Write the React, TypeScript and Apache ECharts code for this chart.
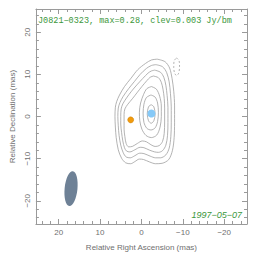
import React, { useEffect, useRef } from "react";
import * as echarts from "echarts";

// Tick values (mas)
const majorTicks = [-20, -10, 0, 10, 20];
const minorTicks = [-24, -22, -18, -16, -14, -12, -8, -6, -4, -2, 2, 4, 6, 8, 12, 14, 16, 18, 22, 24];

// Contours [RA offset, Dec offset] in mas, outermost (L1) to innermost (L7)
const contourL1: number[][] = [
  [-3.8, 13.6], [-5.7, 13.0], [-6.8, 11.5], [-7.4, 9], [-7.8, 6], [-8.0, 2.5], [-8.0, -1.5], [-7.9, -5],
  [-7.5, -8], [-6.6, -10.2], [-5, -11.1], [-3.4, -11.2], [-2, -10.8], [-0.5, -10.2], [0.5, -10.1],
  [1.6, -10.7], [2.6, -11.2], [3.8, -11.0], [4.8, -9.9], [5.6, -7.9], [6.1, -5], [6.3, -2.5], [6.4, 0],
  [6.3, 2.2], [6.0, 3.5], [5.3, 5.1], [4.1, 7.1], [2.5, 9.1], [0.9, 11.1], [-1.0, 12.6], [-2.4, 13.4], [-3.8, 13.6],
];
const contourL2: number[][] = [
  [-3.5, 12.3], [-5.1, 11.8], [-6.1, 10.4], [-6.7, 8.2], [-7.0, 5.5], [-7.2, 2.3], [-7.2, -1.5], [-7.1, -4.8],
  [-6.7, -7.5], [-5.9, -9.1], [-4.6, -9.8], [-3.4, -9.8], [-2.1, -9.4], [-0.6, -8.8], [0.4, -8.7],
  [1.6, -9.3], [2.7, -9.8], [3.7, -9.6], [4.4, -8.6], [5.0, -6.8], [5.4, -4.5], [5.6, -2.2], [5.7, 0],
  [5.6, 2.0], [5.2, 3.3], [4.4, 4.8], [3.1, 6.6], [1.7, 8.3], [0.3, 10.0], [-1.2, 11.4], [-2.4, 12.1], [-3.5, 12.3],
];
const contourL3: number[][] = [
  [-3.2, 11.0], [-4.6, 10.5], [-5.4, 9.3], [-5.9, 7.4], [-6.2, 5], [-6.4, 2.2], [-6.4, -1.4], [-6.3, -4.5],
  [-5.9, -6.8], [-5.1, -8.1], [-4.1, -8.5], [-3.2, -8.4], [-2.0, -8.0], [-0.6, -7.4], [0.3, -7.3],
  [1.6, -7.9], [2.8, -8.4], [3.6, -8.2], [4.1, -7.4], [4.5, -5.8], [4.8, -3.8], [5.0, -1.8], [5.0, 0],
  [4.9, 1.8], [4.5, 3.0], [3.6, 4.4], [2.4, 6.0], [1.1, 7.5], [-0.3, 9.0], [-1.6, 10.3], [-2.4, 10.8], [-3.2, 11.0],
];
const contourL4: number[][] = [
  [-2.9, 9.6], [-4.1, 9.2], [-4.8, 8.1], [-5.2, 6.5], [-5.5, 4.3], [-5.6, 2], [-5.6, -1.3], [-5.5, -4.0],
  [-5.1, -5.9], [-4.3, -6.9], [-3.3, -7.1], [-2.3, -6.7], [-1.2, -6.0], [-0.2, -5.8], [1.0, -6.4],
  [2.2, -7.1], [3.1, -7.2], [3.7, -6.4], [4.0, -4.8], [4.2, -3.0], [4.2, -1.2], [4.2, 0.5], [4.0, 1.8],
  [3.3, 2.9], [2.2, 4.2], [1.1, 5.6], [-0.1, 7.1], [-1.3, 8.5], [-2.1, 9.3], [-2.9, 9.6],
];
const contourL5: number[][] = [
  [-2.4, 7.1], [-3.6, 6.5], [-4.4, 4.8], [-4.8, 2.5], [-4.8, 0], [-4.5, -2.5], [-3.7, -4.4], [-2.4, -5.0],
  [-1.1, -4.5], [-0.1, -3.0], [0.4, -1], [0.5, 1], [0.2, 3.2], [-0.5, 5.2], [-1.3, 6.6], [-2.4, 7.1],
];
const contourL6: number[][] = [
  [-2.3, 5.1], [-3.3, 4.6], [-3.9, 3.2], [-4.1, 1.0], [-3.9, -1.2], [-3.3, -2.7], [-2.3, -3.2],
  [-1.3, -2.8], [-0.6, -1.4], [-0.4, 0.8], [-0.6, 2.9], [-1.2, 4.5], [-2.3, 5.1],
];
const contourL7: number[][] = [
  [-2.35, 2.8], [-3.0, 2.3], [-3.3, 0.6], [-3.0, -1.0], [-2.35, -1.6], [-1.7, -1.0], [-1.4, 0.6], [-1.7, 2.3], [-2.35, 2.8],
];
const negContour: number[][] = [
  [-8.5, 13.9], [-9.1, 13.2], [-9.2, 11.8], [-9.0, 10.3], [-8.5, 9.7], [-8.0, 10.3], [-7.8, 11.8], [-7.9, 13.2], [-8.5, 13.9],
];

// Model components
const compOrange = [[2.6, -0.8]];
const compBlue = [[-2.4, 0.7]];

// Restoring beam: [RA, Dec, minor axis, major axis] (mas)
const beam = [[17.0, -17.1, 3.1, 8.3]];

const GREEN = "#3b973b";
const AX = "#9a9a9a";
const LBL = "#6f6f6f";

const fmt = (v: number) => (v < 0 ? "\u2212" + Math.abs(v) : String(v));

function makeAxis(pos: string, ticks: number[], len: number, main: boolean, isX: boolean) {
  const a: any = {
    type: "value",
    min: -25.5,
    max: 25.5,
    position: pos,
    inverse: isX,
    splitLine: { show: false },
    axisLine: { show: main, onZero: false, lineStyle: { color: AX, width: 1 } },
    axisTick: { show: true, inside: true, length: len, customValues: ticks, lineStyle: { color: AX, width: 1 } },
    axisLabel: { show: false },
  };
  return a;
}

export default function App() {
  const ref = useRef<HTMLDivElement>(null);
  useEffect(() => {
    if (!ref.current) return;
    const chart = echarts.init(ref.current, undefined, { renderer: "svg" });

    const xBottom = makeAxis("bottom", majorTicks, 5, true, true);
    xBottom.axisLabel = {
      show: true, customValues: majorTicks, formatter: fmt, color: LBL, fontSize: 8,
      fontFamily: "Liberation Sans", margin: 4,
    };
    xBottom.name = "Relative Right Ascension (mas)";
    xBottom.nameLocation = "middle";
    xBottom.nameGap = 19;
    xBottom.nameTextStyle = { color: LBL, fontSize: 8, fontFamily: "Liberation Sans" };

    const yLeft = makeAxis("left", majorTicks, 5, true, false);
    yLeft.axisLabel = {
      show: true, customValues: majorTicks, formatter: fmt, color: LBL, fontSize: 8, rotate: 90,
      fontFamily: "Liberation Sans", margin: 4,
    };
    yLeft.name = "Relative Declination (mas)";
    yLeft.nameLocation = "middle";
    yLeft.nameGap = 15;
    yLeft.nameTextStyle = { color: LBL, fontSize: 8, fontFamily: "Liberation Sans" };

    const contourStyle = { color: "#9a9a9a", width: 0.75 };
    const contours = [contourL1, contourL2, contourL3, contourL4, contourL5, contourL6, contourL7];

    const series: any[] = contours.map((c) => ({
      type: "line",
      data: c,
      symbol: "none",
      smooth: 0.3,
      lineStyle: contourStyle,
      silent: true,
      z: 2,
    }));
    series.push({
      type: "line",
      data: negContour,
      symbol: "none",
      smooth: 0.3,
      lineStyle: { color: "#9a9a9a", width: 0.75, type: [2, 2] },
      silent: true,
      z: 2,
    });
    series.push({
      type: "custom",
      data: beam,
      silent: true,
      z: 3,
      renderItem: (params: any, api: any) => {
        const c = api.coord([api.value(0), api.value(1)]);
        const s = api.size([api.value(2), api.value(3)]);
        return {
          type: "ellipse",
          shape: { cx: c[0], cy: c[1], rx: Math.abs(s[0]) / 2, ry: Math.abs(s[1]) / 2 },
          rotation: -0.1,
          originX: c[0],
          originY: c[1],
          style: { fill: "#6e8196" },
        };
      },
    });
    series.push({
      type: "scatter",
      data: compOrange,
      symbolSize: 6,
      itemStyle: { color: "#f29b0c", borderColor: "#c77a00", borderWidth: 0.5, opacity: 1 },
      z: 5,
    });
    series.push({
      type: "scatter",
      data: compBlue,
      symbolSize: 8,
      itemStyle: { color: "#86c9f7", opacity: 1 },
      z: 5,
    });

    chart.setOption({
      animation: false,
      backgroundColor: "#ffffff",
      grid: { left: 31, right: 17, top: 9, bottom: 38 },
      xAxis: [
        xBottom,
        makeAxis("bottom", minorTicks, 3, false, true),
        makeAxis("top", majorTicks, 5, true, true),
        makeAxis("top", minorTicks, 3, false, true),
      ],
      yAxis: [
        yLeft,
        makeAxis("left", minorTicks, 3, false, false),
        makeAxis("right", majorTicks, 5, true, false),
        makeAxis("right", minorTicks, 3, false, false),
      ],
      series,
      graphic: [
        {
          type: "text",
          left: 38,
          top: 16,
          silent: true,
          style: {
            text: "J0821\u22120323, max=0.28, clev=0.003 Jy/bm",
            fill: GREEN,
            fontSize: 8.5,
            fontFamily: "Liberation Mono",
          },
        },
        {
          type: "text",
          right: 22,
          top: 210,
          silent: true,
          style: {
            text: "1997\u221205\u221207",
            fill: GREEN,
            fontSize: 9,
            fontStyle: "italic",
            fontFamily: "Liberation Sans",
          },
        },
      ],
    });
    return () => chart.dispose();
  }, []);
  return (
    <div
      ref={ref}
      style={{ position: "fixed", left: 0, top: 0, width: 264, height: 262, background: "#fff" }}
    />
  );
}
